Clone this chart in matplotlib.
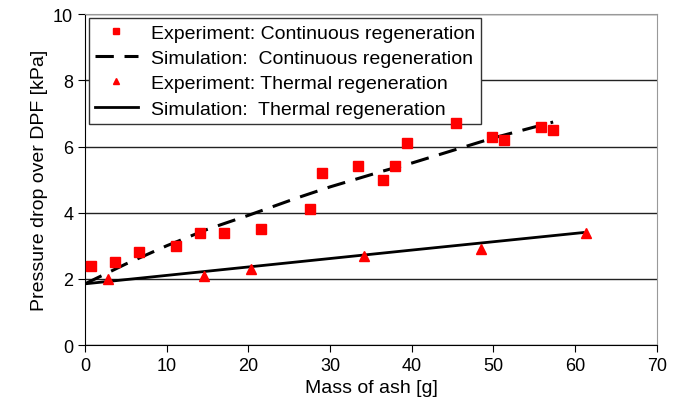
import numpy as np
import matplotlib.pyplot as plt

plt.rcParams['font.family'] = ['Liberation Sans', 'DejaVu Sans']

# Experiment: continuous regeneration
cont_x = [0.7, 3.7, 6.6, 11.1, 14.1, 17.0, 21.5, 27.5, 29.0, 33.4, 36.5, 37.9,
          39.4, 45.4, 49.8, 51.3, 55.8, 57.3]
cont_y = [2.4, 2.5, 2.8, 3.0, 3.4, 3.4, 3.5, 4.1, 5.2, 5.4, 5.0, 5.4,
          6.1, 6.7, 6.3, 6.2, 6.6, 6.5]

# Simulation: continuous regeneration
sim_cont_x = [0, 5, 10, 15, 20, 26, 30, 36.5, 40, 45, 50, 57.3]
sim_cont_y = [1.85, 2.45, 3.0, 3.5, 3.92, 4.45, 4.78, 5.26, 5.5, 5.88, 6.26, 6.74]

# Experiment: thermal regeneration
therm_x = [2.8, 14.6, 20.3, 34.1, 48.5, 61.3]
therm_y = [2.0, 2.1, 2.3, 2.7, 2.9, 3.4]

# Simulation: thermal regeneration
sim_therm_x = [0, 20, 40, 61]
sim_therm_y = [1.85, 2.36, 2.87, 3.4]

fig = plt.figure(figsize=(6.8, 4.1), dpi=100)
ax = fig.add_axes([0.125, 0.156, 0.841, 0.807])

ax.plot(cont_x, cont_y, 's', color='#ff0000', markersize=7, zorder=4,
        label='Experiment: Continuous regeneration')
ax.plot(sim_cont_x, sim_cont_y, '--', color='black', linewidth=2.2,
        dashes=(6, 3.5), label='Simulation:  Continuous regeneration')
ax.plot(therm_x, therm_y, '^', color='#ff0000', markersize=7, zorder=4,
        label='Experiment: Thermal regeneration')
ax.plot(sim_therm_x, sim_therm_y, '-', color='black', linewidth=2,
        label='Simulation:  Thermal regeneration')

ax.set_xlim(0, 70)
ax.set_ylim(0, 10)
ax.set_xticks(np.arange(0, 71, 10))
ax.set_yticks(np.arange(0, 11, 2))
ax.yaxis.grid(True, color='#222222', linewidth=1)
ax.set_axisbelow(True)

for s in ['top', 'right']:
    ax.spines[s].set_color('#999999')
for s in ['left', 'bottom']:
    ax.spines[s].set_color('black')
ax.tick_params(labelsize=13, length=5, direction='out')

ax.set_xlabel('Mass of ash [g]', fontsize=14)
ax.set_ylabel('Pressure drop over DPF [kPa]', fontsize=14)

leg = ax.legend(loc='upper left', fontsize=14, frameon=True, fancybox=False,
                edgecolor='#333333', framealpha=1, borderaxespad=0.2,
                handlelength=2.2, labelspacing=0.4, borderpad=0.3,
                markerscale=0.65, handletextpad=0.7)
leg.get_frame().set_linewidth(1)
leg.set_zorder(3)

fig.savefig('out.png', dpi=100)
